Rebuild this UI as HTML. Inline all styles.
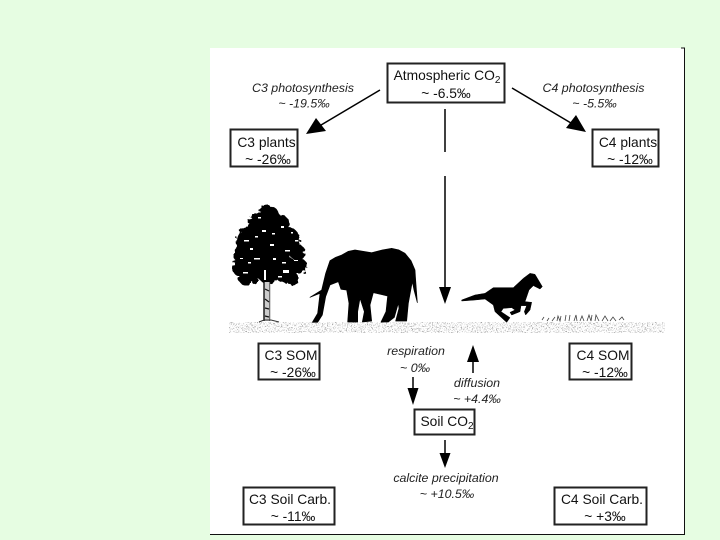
<!DOCTYPE html>
<html><head><meta charset="utf-8"><style>
html,body{margin:0;padding:0;background:#e6fde2}
svg{display:block}
text{font-family:"Liberation Sans",sans-serif;font-size:13.8px;fill:#111;text-anchor:middle}
.i{font-style:italic;font-size:12.4px;fill:#222}
.b{fill:#fff;stroke:#222;stroke-width:2}
.l{stroke:#000;stroke-width:1.5;fill:none}
</style></head><body>
<svg width="720" height="540" viewBox="0 0 720 540" xmlns="http://www.w3.org/2000/svg">
<defs>
<filter id="n" x="0" y="0" width="100%" height="100%"><feTurbulence type="fractalNoise" baseFrequency="0.8" numOctaves="2" seed="4"/><feColorMatrix values="0 0 0 0 0.35 0 0 0 0 0.35 0 0 0 0 0.35 3 3 0 0 -3.05"/></filter>
<filter id="e" x="-5%" y="-5%" width="110%" height="110%"><feTurbulence type="fractalNoise" baseFrequency="0.22" numOctaves="2" seed="7"/><feDisplacementMap in="SourceGraphic" scale="6"/><feGaussianBlur stdDeviation=".3"/></filter>
<filter id="s" x="-5%" y="-5%" width="110%" height="110%"><feGaussianBlur stdDeviation=".35"/></filter>
</defs>
<rect width="720" height="540" fill="#e6fde2"/>
<rect x="210" y="48" width="474" height="486" fill="#fff"/>
<path d="M681 48H684.500V534.500H210" fill="none" stroke="#111" stroke-width="1"/>
<rect x="229" y="322" width="436" height="11" filter="url(#n)"/>
<path d="M542 320l2-3m3 4l2-3m3 3l3-4m2 4l1-5 2 5 1-5m4 5l1-6m3 6l1-6m4 6l2-6 1 6m3 0l2-5 2 5m3 0l2-6 2 6 1-6m3 6l1-6 3 6m3 0l3-5 3 5m2 0l3-4 3 4m3-1l3-3 2 3" stroke="#444" stroke-width=".8" fill="none"/>

<g filter="url(#e)" fill="#000">
<circle cx="268" cy="216" r="11"/><circle cx="258" cy="224" r="10"/><circle cx="279" cy="224" r="10"/>
<circle cx="249" cy="240" r="13"/><circle cx="287" cy="240" r="13"/><circle cx="268" cy="240" r="16"/>
<circle cx="242" cy="254" r="9"/><circle cx="297" cy="252" r="8"/><circle cx="268" cy="256" r="22"/>
<circle cx="240" cy="268" r="8"/><circle cx="299" cy="266" r="8"/><circle cx="251" cy="270" r="13"/><circle cx="286" cy="270" r="13"/>
<circle cx="268" cy="274" r="10"/><circle cx="245" cy="279" r="6"/><circle cx="292" cy="279" r="6"/>
</g>
<g fill="#fff" filter="url(#s)">
<rect x="244" y="240" width="5" height="1.500"/><rect x="262" y="230" width="4" height="2"/><rect x="281" y="226" width="3" height="2"/>
<rect x="254" y="258" width="6" height="1.500"/><rect x="270" y="244" width="4" height="2"/><rect x="285" y="250" width="5" height="1.500"/>
<rect x="264" y="270" width="2" height="10"/><rect x="282" y="262" width="4" height="1.500"/><rect x="250" y="248" width="3" height="2"/>
<rect x="273" y="258" width="3" height="2"/><rect x="295" y="240" width="3" height="1.500"/><rect x="243" y="272" width="5" height="1.500"/>
<rect x="258" y="217" width="3" height="1.500"/><rect x="283" y="270" width="6" height="3"/><rect x="278" y="276" width="4" height="1.500"/>
<rect x="272" y="233" width="3" height="1.500"/><rect x="248" y="262" width="3" height="1.500"/><rect x="294" y="260" width="4" height="1"/>
<rect x="255" y="236" width="3" height="1.500"/><rect x="291" y="232" width="2" height="1.500"/><rect x="240" y="258" width="3" height="1"/>
</g>
<path d="M264 282H270V321H264Z" fill="#ccc"/>
<path d="M264 282V321" stroke="#111" stroke-width="1.400"/>
<path d="M269.800 282V321" stroke="#333" stroke-width=".8"/>
<path d="M265 289l4 2M265 299l4 3M265 308l4 1M265 316l4 1" stroke="#111" stroke-width="1.200" fill="none"/>
<path d="M259 322l5-2h7l8 2" stroke="#333" fill="none"/>

<g transform="translate(305,240) scale(.33333)" filter="url(#s)">
<path fill="#000" stroke="#000" stroke-width="2" stroke-linejoin="round" d="M15 172L50 150L62 100L75 62L92 52L110 45L130 34L150 30L200 38L232 30L260 25L282 30L300 40L318 62L330 90L332 120L337 188L327 150L322 125L310 190L305 243L272 243L282 205L280 190L268 232L250 246L228 246L243 215L248 168L205 158L195 195L200 243L172 246L178 215L165 175L158 215L158 246L128 246L132 190L125 150L108 148L100 125L75 135L62 170L52 225L38 247L22 247L38 220L45 160Z"/>
</g>
<g transform="translate(455,265) scale(.33333)" filter="url(#s)">
<path fill="#000" stroke="#000" stroke-width="1.500" stroke-linejoin="round" d="M20 105L60 90L90 85L115 68L175 68L205 40L225 25L240 28L262 65L255 72L235 62L222 75L210 110L230 112L225 135L212 150L208 140L215 122L198 122L195 140L170 150L165 142L180 135L170 128L145 130L138 140L165 158L155 172L120 140L115 120L90 102L60 105L20 108Z"/>
</g>

<path class="l" d="M380 90L316 128M512 88L576 126M445 109V152M445 176V290M413 377V392M473 360V373M445 440V455"/>
<path d="M306 134L316 118L326 131ZM586 132L566 128L576 115ZM445 304L439 287H451ZM413 405L407.500 388H418.500ZM473 345L467 362H479ZM445 468L439.500 453H450.500Z" fill="#000"/>

<rect class="b" x="387.500" y="63.500" width="117" height="39"/>
<rect class="b" x="230.500" y="129.500" width="67" height="37"/>
<rect class="b" x="592.500" y="129.500" width="66" height="37"/>
<rect class="b" x="258.500" y="343.500" width="61" height="36"/>
<rect class="b" x="569.500" y="343.500" width="62" height="36"/>
<rect class="b" x="414.500" y="409.500" width="60" height="25"/>
<rect class="b" x="243.500" y="487.500" width="91" height="37"/>
<rect class="b" x="554.500" y="487.500" width="92" height="37"/>

<text x="447" y="80" style="font-size:13.800px">Atmospheric CO<tspan font-size="10" dy="3">2</tspan></text>
<text x="446" y="98">~ -6.5‰</text>
<text x="266.500" y="147">C3 plants</text><text x="268" y="164">~ -26‰</text>
<text x="628" y="147">C4 plants</text><text x="630" y="164">~ -12‰</text>
<text x="291" y="360">C3 SOM</text><text x="293" y="377">~ -26‰</text>
<text x="603" y="360">C4 SOM</text><text x="605" y="377">~ -12‰</text>
<text x="447" y="426">Soil CO<tspan font-size="10" dy="3">2</tspan></text>
<text x="290" y="504">C3 Soil Carb.</text><text x="293" y="521">~ -11‰</text>
<text x="602" y="504">C4 Soil Carb.</text><text x="605" y="521">~ +3‰</text>

<text class="i" x="303" y="92">C3 photosynthesis</text><text class="i" x="304" y="107.500">~ -19.5‰</text>
<text class="i" x="593.500" y="92">C4 photosynthesis</text><text class="i" x="594.500" y="107.500">~ -5.5‰</text>
<text class="i" x="416" y="355">respiration</text><text class="i" x="415" y="372">~ 0‰</text>
<text class="i" x="477" y="387">diffusion</text><text class="i" x="477" y="403">~ +4.4‰</text>
<text class="i" x="446" y="482">calcite precipitation</text><text class="i" x="447" y="498">~ +10.5‰</text>
</svg>
</body></html>
